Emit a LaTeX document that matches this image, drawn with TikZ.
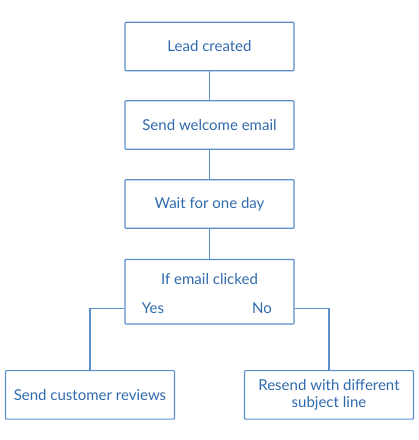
\documentclass[tikz,border=0pt]{standalone}
\usepackage{fontspec}
\setmainfont{Lato}
\definecolor{txt}{HTML}{2F6AAD}
\definecolor{brd}{HTML}{5B8FCC}
\begin{document}
\begin{tikzpicture}[x=1pt,y=-1pt,
  box/.style={draw=brd,line width=1.1pt,rounded corners=0.8pt,minimum width=169pt,minimum height=48.5pt,text=txt,font=\fontsize{15}{17.5}\selectfont,align=center,inner sep=0pt},
  conn/.style={draw=brd,line width=1.1pt},
  lbl/.style={text=txt,font=\fontsize{15}{17.5}\selectfont,inner sep=0pt}]
\useasboundingbox (0,0) rectangle (419,440);
\node[box] (a) at (209.5,46.5) {Lead created};
\node[box] (b) at (209.5,125) {Send welcome email};
\node[box] (c) at (209.5,204) {Wait for one day};
\node[box,minimum height=64.5pt] (d) at (209.5,291.7) {};
\node[lbl] (dt) at (209.5,279) {If email clicked};
\node[lbl] (yes) at (153,308.3) {Yes};
\node[lbl] (no) at (262,308.3) {No};
\node[box] (l) at (90,394.8) {Send customer reviews};
\node[box] (r) at (329,394.8) {Resend with different\\subject line};
\coordinate (yl) at (d.west |- 0,308.3);
\coordinate (yr) at (d.east |- 0,308.3);
\draw[conn] (a) -- (b);
\draw[conn] (b) -- (c);
\draw[conn] (c) -- (d);
\draw[conn] (yl) -| (l.north);
\draw[conn] (yr) -| (r.north);
\end{tikzpicture}
\end{document}
